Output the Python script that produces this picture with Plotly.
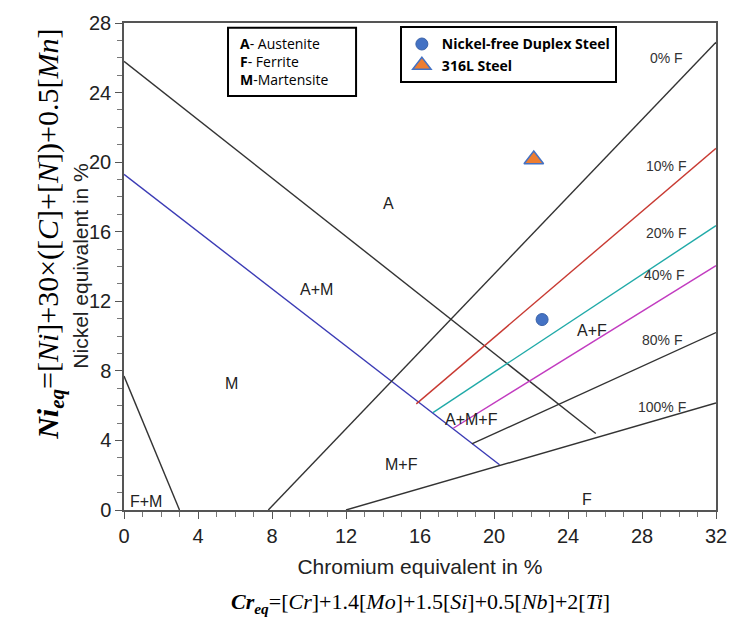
import plotly.graph_objects as go

# ---- data ----
line_names = ["A boundary", "A+M / M boundary", "F+M boundary", "0% F", "10% F", "20% F", "40% F", "80% F", "100% F"]
line_x0 = [0.0, 0.0, 0.0, 7.8, 15.8, 16.7, 17.8, 18.8, 12.0]
line_y0 = [25.8, 19.3, 7.7, 0.0, 6.1, 5.6, 4.7, 3.8, 0.0]
line_x1 = [25.5, 20.3, 3.0, 32.0, 32.0, 32.0, 32.0, 32.0, 32.0]
line_y1 = [4.4, 2.6, 0.0, 26.9, 20.8, 16.35, 14.05, 10.2, 6.15]
line_colors = ["#333333", "#3b3bb5", "#333333", "#333333", "#c83a32", "#20aaa8", "#c23cc0", "#333333", "#333333"]

region_labels = ["A", "A+M", "M", "M+F", "F+M", "F", "A+F", "A+M+F"]
region_x = [14.3, 10.4, 5.8, 15.0, 1.2, 25.0, 25.3, 18.8]
region_y = [17.6, 12.7, 7.3, 2.6, 0.5, 0.6, 10.3, 5.2]

ferrite_labels = ["0% F", "10% F", "20% F", "40% F", "80% F", "100% F"]
ferrite_x = [29.3, 29.3, 29.3, 29.2, 29.1, 29.1]
ferrite_y = [26.0, 19.8, 15.9, 13.5, 9.8, 5.9]

steel_names = ["Nickel-free Duplex Steel", "316L Steel"]
steel_cr = [22.6, 22.15]
steel_ni = [10.95, 20.15]

x_ticks = [0, 4, 8, 12, 16, 20, 24, 28, 32]
y_ticks = [0, 4, 8, 12, 16, 20, 24, 28]

fig = go.Figure()

for i in range(len(line_names)):
    fig.add_trace(go.Scatter(
        x=[line_x0[i], line_x1[i]], y=[line_y0[i], line_y1[i]],
        mode="lines", line=dict(color=line_colors[i], width=1.4),
        showlegend=False, hoverinfo="skip"))

fig.add_trace(go.Scatter(
    x=[steel_cr[0]], y=[steel_ni[0]], mode="markers", name="<b>" + steel_names[0] + "</b>",
    marker=dict(symbol="circle", size=12, color="#4472c4", line=dict(color="#3a62a8", width=1))))
fig.add_trace(go.Scatter(
    x=[steel_cr[1]], y=[steel_ni[1]], mode="markers", name="<b>" + steel_names[1] + "</b>",
    marker=dict(symbol="triangle-up", size=17, color="#ed7d31", line=dict(color="#4472c4", width=1.5))))

annotations = []
for t, x, y in zip(region_labels, region_x, region_y):
    annotations.append(dict(x=x, y=y, text=t, showarrow=False,
                            font=dict(family="Liberation Sans, Arial", size=16, color="#222")))
for t, x, y in zip(ferrite_labels, ferrite_x, ferrite_y):
    annotations.append(dict(x=x, y=y, text=t, showarrow=False,
                            font=dict(family="Liberation Sans, Arial", size=14, color="#333")))

# phase key box text
annotations.append(dict(
    xref="paper", yref="paper", x=0.193, y=0.92, xanchor="left", yanchor="middle",
    text="<b>A</b>- Austenite<br><b>F</b>- Ferrite<br><b>M</b>-Martensite",
    align="left", showarrow=False,
    font=dict(family="Open Sans, Lato, sans-serif", size=14, color="black")))

# axis titles and formulas
annotations.append(dict(
    xref="paper", yref="paper", x=-0.074, y=0.50, xanchor="center", yanchor="middle",
    text="Nickel equivalent in %", textangle=-90, showarrow=False,
    font=dict(family="Liberation Sans, Arial", size=21, color="#222")))
annotations.append(dict(
    xref="paper", yref="paper", x=0.5, y=-0.191, xanchor="center", yanchor="middle",
    text="<b><i>Cr</i></b><sub><b><i>eq</i></b></sub>=[<i>Cr</i>]+1.4[<i>Mo</i>]+1.5[<i>Si</i>]+0.5[<i>Nb</i>]+2[<i>Ti</i>]",
    showarrow=False, font=dict(family="Liberation Serif, serif", size=22, color="black")))
annotations.append(dict(
    xref="paper", yref="paper", x=-0.125, y=0.565, xanchor="center", yanchor="middle",
    text="<b><i>Ni</i></b><sub><b><i>eq</i></b></sub>=[<i>Ni</i>]+30×([<i>C</i>]+[<i>N</i>])+0.5[<i>Mn</i>]",
    textangle=-90, showarrow=False, font=dict(family="Liberation Serif, serif", size=30, color="black")))

shapes = [dict(type="rect", xref="paper", yref="paper", x0=0.1757, x1=0.392, y0=0.850, y1=0.990,
               line=dict(color="black", width=2), fillcolor="white", layer="below")]

fig.update_layout(
    width=729, height=619,
    margin=dict(l=124, r=13, t=23, b=109),
    paper_bgcolor="white", plot_bgcolor="white",
    annotations=annotations, shapes=shapes,
    showlegend=True,
    legend=dict(x=0.466, y=0.993, xanchor="left", yanchor="top",
                bordercolor="black", borderwidth=2, bgcolor="white",
                font=dict(family="Open Sans, Lato, sans-serif", size=14, color="black"),
                itemwidth=30, tracegroupgap=2),
)
axis_font = dict(family="Liberation Sans, Arial", size=20, color="#222")
title_font = dict(family="Liberation Sans, Arial", size=21, color="#222")
fig.update_xaxes(range=[0, 32], tickvals=x_ticks, ticktext=[str(v) for v in x_ticks],
                 automargin=False,
                 title=dict(text="Chromium equivalent in %", font=title_font, standoff=14),
                 showgrid=False, zeroline=False, showline=True, linecolor="#555", linewidth=1.5,
                 mirror=True, ticks="outside", ticklen=7, tickcolor="#555",
                 minor=dict(dtick=1, ticks="outside", ticklen=5, tickcolor="#777"),
                 tickfont=axis_font)
fig.update_yaxes(range=[0, 28], tickvals=y_ticks, ticktext=[str(v) for v in y_ticks],
                 automargin=False,
                 showgrid=False, zeroline=False, showline=True, linecolor="#555", linewidth=1.5,
                 mirror=True, ticks="outside", ticklen=7, tickcolor="#555",
                 minor=dict(dtick=1, ticks="outside", ticklen=5, tickcolor="#777"),
                 tickfont=axis_font)

fig.write_html("out.html")
